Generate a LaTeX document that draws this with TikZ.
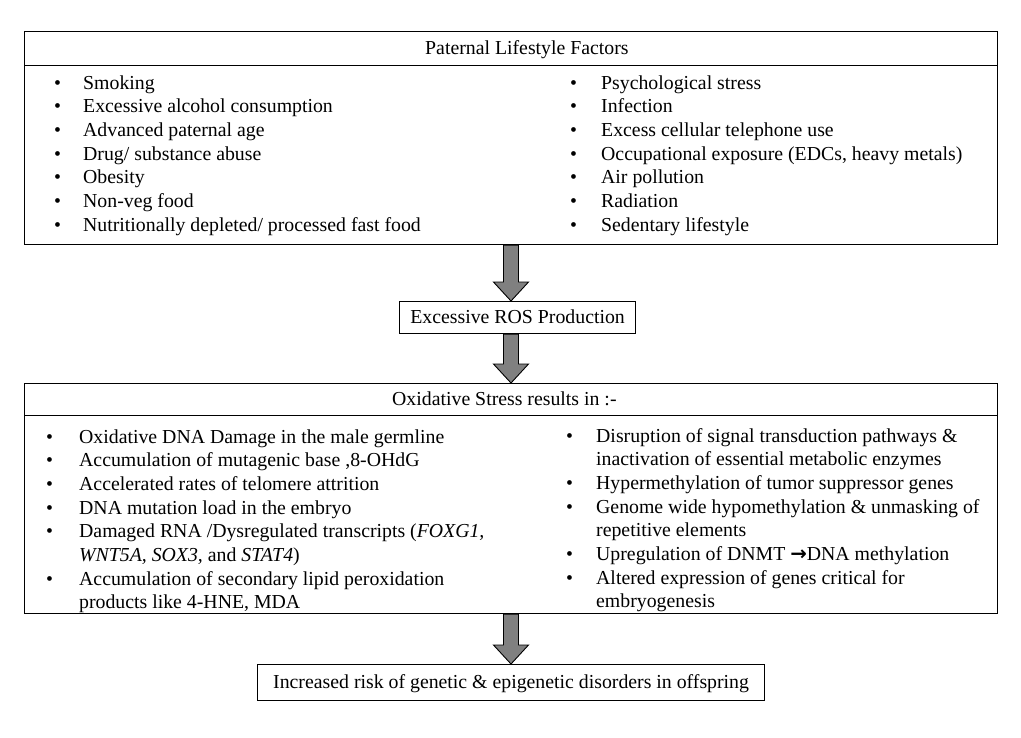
\documentclass[tikz,border=0pt]{standalone}
\usepackage{fontspec}
\setmainfont{Liberation Serif}
\newfontfamily\arrowfont{DejaVu Sans}
\usetikzlibrary{calc}
\definecolor{arrowgray}{RGB}{128,128,128}
\begin{document}
\begin{tikzpicture}[x=1pt,y=-1pt,
  txt/.style={font=\fontsize{19.8}{23.7}\selectfont},
  box/.style={draw=black, line width=1.2pt, inner sep=0pt, anchor=north west,
              text height=15pt, text depth=3pt, txt},
  plain/.style={anchor=base west, inner sep=0pt, txt},
  fat/.style={draw=black, line width=0.9pt, fill=arrowgray, line join=miter}]
\useasboundingbox (0,0) rectangle (1021,737);
\coordinate (axis) at (511,0);
% boxes
\node[box, minimum width=973pt, minimum height=34pt] (plfhead) at (24,31) {};
\node[box, minimum width=973pt, minimum height=179pt] (plfbody) at (24,65) {};
\node[box, minimum width=236pt, minimum height=32pt] (ros) at (399,301) {Excessive ROS Production};
\node[box, minimum width=973pt, minimum height=32pt] (oxhead) at (24,383) {};
\node[box, minimum width=973pt, minimum height=198pt] (oxbody) at (24,415) {};
\node[box, minimum width=507pt, minimum height=36pt] (risk) at (257,664) {Increased risk of genetic \& epigenetic disorders in offspring};
% headers
\node[plain] (plftitle) at (425,54) {Paternal Lifestyle Factors};
\node[plain] (oxtitle) at (392,405) {Oxidative Stress results in :-};
% lists
\node[plain] (plfL) at (54,89) {\begin{tabular}[t]{@{}p{29pt}@{}l@{}}
\textbullet & Smoking\\
\textbullet & Excessive alcohol consumption\\
\textbullet & Advanced paternal age\\
\textbullet & Drug/ substance abuse\\
\textbullet & Obesity\\
\textbullet & Non-veg food\\
\textbullet & Nutritionally depleted/ processed fast food
\end{tabular}};
\node[plain] (plfR) at (570,89) {\begin{tabular}[t]{@{}p{31pt}@{}l@{}}
\textbullet & Psychological stress\\
\textbullet & Infection\\
\textbullet & Excess cellular telephone use\\
\textbullet & Occupational exposure (EDCs, heavy metals)\\
\textbullet & Air pollution\\
\textbullet & Radiation\\
\textbullet & Sedentary lifestyle
\end{tabular}};
\node[plain] (oxL) at (46,443) {\begin{tabular}[t]{@{}p{33pt}@{}l@{}}
\textbullet & Oxidative DNA Damage in the male germline\\
\textbullet & Accumulation of mutagenic base ,8-OHdG\\
\textbullet & Accelerated rates of telomere attrition\\
\textbullet & DNA mutation load in the embryo\\
\textbullet & Damaged RNA /Dysregulated transcripts (\textit{FOXG1,}\\
 & \textit{WNT5A, SOX3,} and \textit{STAT4})\\
\textbullet & Accumulation of secondary lipid peroxidation\\
 & products like 4-HNE, MDA
\end{tabular}};
\node[plain] (oxR) at (566,442) {\begin{tabular}[t]{@{}p{30pt}@{}l@{}}
\textbullet & Disruption of signal transduction pathways \&\\
 & inactivation of essential metabolic enzymes\\
\textbullet & Hypermethylation of tumor suppressor genes\\
\textbullet & Genome wide hypomethylation \& unmasking of\\
 & repetitive elements\\
\textbullet & Upregulation of DNMT {\arrowfont\bfseries →}DNA methylation\\
\textbullet & Altered expression of genes critical for\\
 & embryogenesis
\end{tabular}};
% block arrows
\newcommand\fatarrow[2]{%
  \filldraw[fat] ($(#1.south -| axis)+(-7.5,0)$) -- ($(#2.north -| axis)+(-7.5,-19)$)
    -- ($(#2.north -| axis)+(-17.5,-19)$) -- (#2.north -| axis)
    -- ($(#2.north -| axis)+(17.5,-19)$) -- ($(#2.north -| axis)+(7.5,-19)$)
    -- ($(#1.south -| axis)+(7.5,0)$) -- cycle;}
\fatarrow{plfbody}{ros}
\fatarrow{ros}{oxhead}
\fatarrow{oxbody}{risk}
\end{tikzpicture}
\end{document}
